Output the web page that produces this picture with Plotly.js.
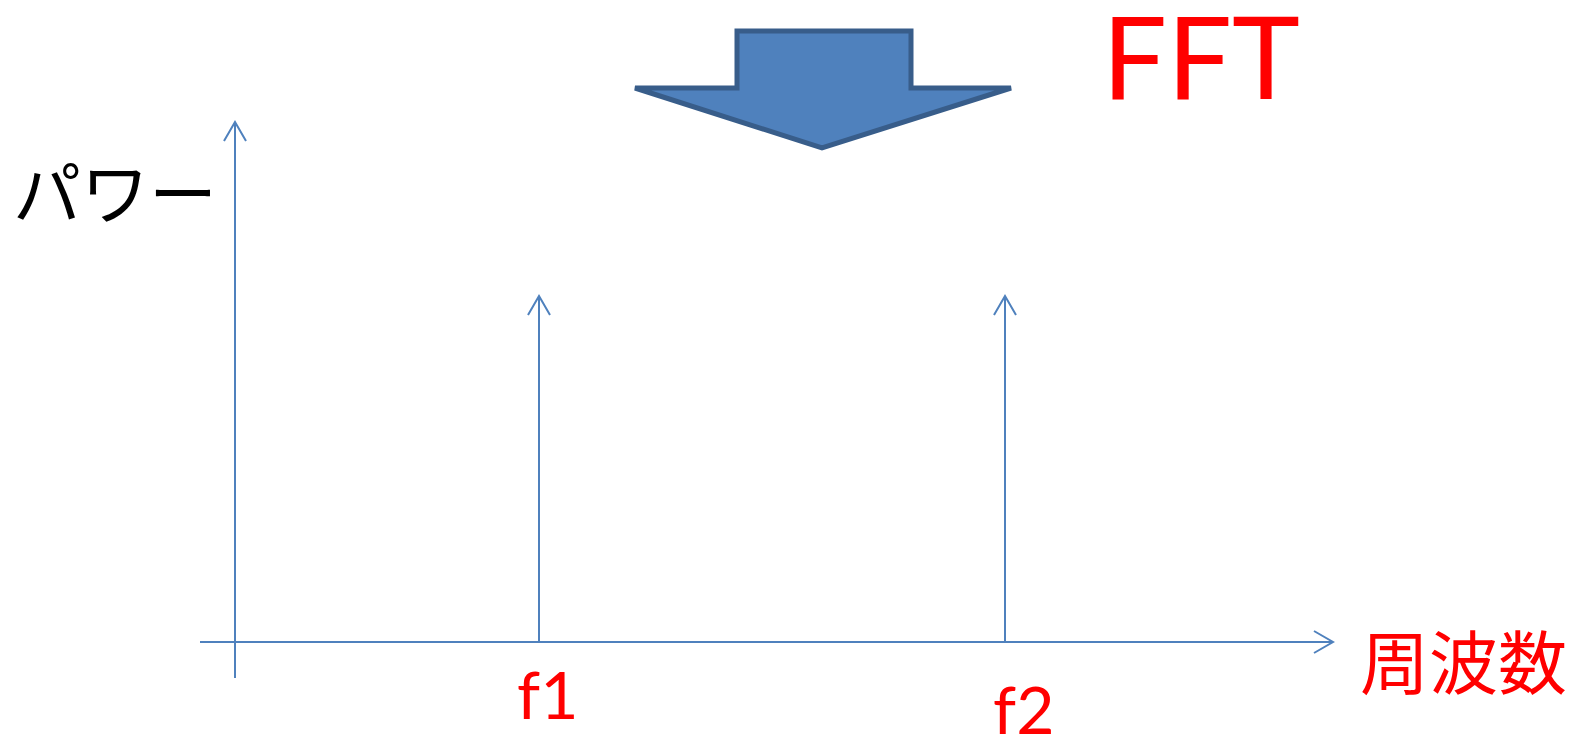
<!DOCTYPE html>
<html><head><meta charset="utf-8">
<script src="https://cdn.plot.ly/plotly-3.0.1.min.js"></script>
<style>html,body{margin:0;padding:0;background:#fff;}#chart{width:1571px;height:734px;}</style>
</head><body><div id="chart"></div>
<script>
// Data (frequency and power; origin at the axes crossing)
const peakLabels = ['f1', 'f2'];
const peakFreqs = [304, 770];
const peakPowers = [346, 346];
const xAxisExtent = [-35, 1098];
const yAxisExtent = [-36, 520];
const xTitle = '周波数';
const yTitle = 'パワー';
const arrowText = 'FFT';

// label placement (offsets from each peak's foot, in pixels)
const labelDx = [8, 18];
const labelDy = [-51, -66];

const blue = '#4f81bd';
const red = '#ff0000';
const headW = 11, headL = 19;

const traces = [];
function line(xs, ys) {
  traces.push({type:'scatter', mode:'lines', x:xs, y:ys, xaxis:'x', yaxis:'y',
    line:{color:blue, width:2}, hoverinfo:'skip', showlegend:false});
}
// axes
line([xAxisExtent[0], xAxisExtent[1]], [0, 0]);
line([0, 0], [yAxisExtent[0], yAxisExtent[1]]);
// axis heads
line([xAxisExtent[1]-headL, xAxisExtent[1], xAxisExtent[1]-headL], [headW, 0, -headW]);
line([-headW, 0, headW], [yAxisExtent[1]-headL, yAxisExtent[1], yAxisExtent[1]-headL]);
// spikes
peakFreqs.forEach((f, i) => {
  const p = peakPowers[i];
  line([f, f], [0, p]);
  line([f-headW, f, f+headW], [p-headL, p, p-headL]);
});

const annotations = [];
peakFreqs.forEach((f, i) => {
  annotations.push({xref:'x', yref:'y', x:f+labelDx[i], y:labelDy[i], text:peakLabels[i], showarrow:false,
    xanchor:'center', yanchor:'middle', font:{family:'Lato, sans-serif', size:66, color:red}});
});
annotations.push({xref:'x2', yref:'y2', x:1463, y:659, text:xTitle, showarrow:false,
  xanchor:'center', yanchor:'middle', font:{family:'Noto Sans CJK JP', size:69, color:red}});
annotations.push({xref:'x2', yref:'y2', x:115, y:189, text:yTitle, showarrow:false,
  xanchor:'center', yanchor:'middle', font:{family:'Noto Sans CJK JP', size:68, color:'#000'}});
annotations.push({xref:'x2', yref:'y2', x:1201, y:54, text:arrowText, showarrow:false,
  xanchor:'center', yanchor:'middle', font:{family:'Lato, sans-serif', size:115, color:red}});

const shapes = [{type:'path', xref:'x2', yref:'y2',
  path:'M 737 31 L 911 31 L 911 88 L 1011 88 L 822 148 L 635 88 L 737 88 Z',
  fillcolor:blue, line:{color:'#385d8a', width:5}, layer:'below'}];

const layout = {
  width:1571, height:734, margin:{l:0, r:0, t:0, b:0},
  paper_bgcolor:'#fff', plot_bgcolor:'rgba(0,0,0,0)', showlegend:false,
  xaxis:{range:[-235, 1336], visible:false, fixedrange:true},
  yaxis:{range:[-92, 642], visible:false, fixedrange:true},
  xaxis2:{range:[0, 1571], visible:false, overlaying:'x', fixedrange:true},
  yaxis2:{range:[734, 0], visible:false, overlaying:'y', fixedrange:true},
  shapes:shapes, annotations:annotations
};
traces.push({type:'scatter', x:[0], y:[0], xaxis:'x2', yaxis:'y2', mode:'markers', marker:{opacity:0}, hoverinfo:'skip', showlegend:false});
Plotly.newPlot('chart', traces, layout, {staticPlot:true, displayModeBar:false});
</script></body></html>
